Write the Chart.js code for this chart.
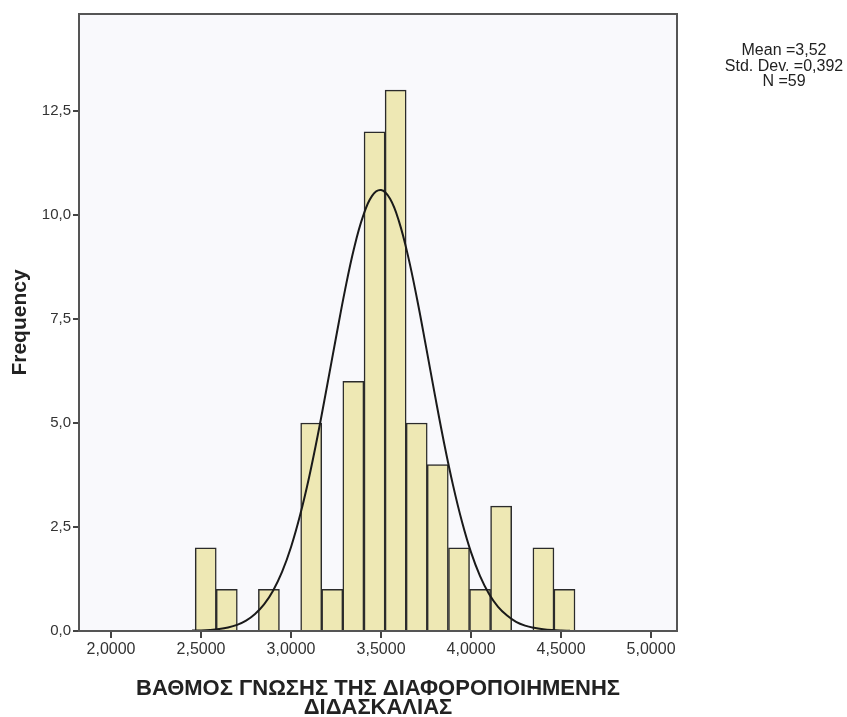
<!DOCTYPE html>
<html>
<head>
<meta charset="utf-8">
<script src="https://cdn.jsdelivr.net/npm/chart.js@4"></script>
<style>
  html, body { margin: 0; padding: 0; background: #ffffff; }
  #wrap { width: 847px; height: 717px; position: relative; }
</style>
</head>
<body>
<div id="wrap"><canvas id="c" width="847" height="717"></canvas></div>
<script>
// ---- data ----
const binCenters = [2.526, 2.643, 2.760, 2.877, 2.995, 3.112, 3.229, 3.346, 3.464,
                    3.581, 3.698, 3.815, 3.933, 4.050, 4.167, 4.285, 4.402, 4.519];
const frequencies = [2, 1, 0, 1, 0, 5, 1, 6, 12, 13, 5, 4, 2, 1, 3, 0, 2, 1];

// normal curve as drawn in the reference
const curveX = [2.45, 2.50, 2.55, 2.60, 2.65, 2.70, 2.75, 2.80, 2.85, 2.90, 2.95, 3.00,
                3.05, 3.10, 3.15, 3.20, 3.25, 3.30, 3.35, 3.40, 3.45, 3.50, 3.55, 3.60,
                3.65, 3.70, 3.75, 3.80, 3.85, 3.90, 3.95, 4.00, 4.05, 4.10, 4.15, 4.20,
                4.25, 4.30, 4.35, 4.40, 4.45, 4.50, 4.55];
const curveY = [0.01, 0.013, 0.025, 0.047, 0.085, 0.148, 0.25, 0.41, 0.64, 0.97, 1.42, 2.02,
                2.78, 3.69, 4.74, 5.89, 7.06, 8.20, 9.20, 9.97, 10.46, 10.60, 10.39, 9.84,
                9.01, 7.98, 6.83, 5.65, 4.52, 3.50, 2.62, 1.89, 1.32, 0.89, 0.58, 0.37,
                0.22, 0.13, 0.076, 0.042, 0.022, 0.011, 0.005];

const xTicks = [2.0, 2.5, 3.0, 3.5, 4.0, 4.5, 5.0];
const yTicks = [0, 2.5, 5.0, 7.5, 10.0, 12.5];
const statLines = ['Mean =3,52', 'Std. Dev. =0,392', 'N =59'];
const xTitle = ['ΒΑΘΜΟΣ ΓΝΩΣΗΣ ΤΗΣ ΔΙΑΦΟΡΟΠΟΙΗΜΕΝΗΣ', 'ΔΙΔΑΣΚΑΛΙΑΣ'];
const yTitle = 'Frequency';

// ---- build chart ----
const barPoints = [];
binCenters.forEach((c, i) => { if (frequencies[i] > 0) barPoints.push({ x: c, y: frequencies[i] }); });
const curvePoints = curveX.map((x, i) => ({ x: x, y: curveY[i] }));

const FONT = 'Liberation Sans, Arial, sans-serif';

const frame = {
  id: 'frame',
  beforeDraw(chart) {
    const { ctx, chartArea: a } = chart;
    ctx.save();
    ctx.fillStyle = '#f9f9fc';
    ctx.fillRect(a.left, a.top, a.right - a.left, a.bottom - a.top);
    ctx.restore();
  },
  afterDatasetsDraw(chart) {
    const { ctx, chartArea: a } = chart;
    ctx.save();
    ctx.strokeStyle = '#555555';
    ctx.lineWidth = 2;
    ctx.strokeRect(a.left, a.top, a.right - a.left, a.bottom - a.top);
    ctx.restore();
  },
  afterDraw(chart) {
    const { ctx } = chart;
    ctx.save();
    ctx.fillStyle = '#222222';
    ctx.font = '16px ' + FONT;
    ctx.textAlign = 'center';
    ctx.textBaseline = 'middle';
    statLines.forEach((t, i) => ctx.fillText(t, 784, 51 + i * 15.5));
    ctx.restore();
  }
};

new Chart(document.getElementById('c'), {
  type: 'bar',
  data: {
    datasets: [
      {
        type: 'line',
        data: curvePoints,
        borderColor: '#1a1a1a',
        borderWidth: 2,
        pointRadius: 0,
        tension: 0.4,
        fill: false,
        order: 0
      },
      {
        type: 'bar',
        data: barPoints,
        backgroundColor: '#eee8b4',
        borderColor: '#2b2b2b',
        borderWidth: 1.5,
        barPercentage: 1,
        categoryPercentage: 1,
        grouped: false,
        order: 1
      }
    ]
  },
  options: {
    responsive: false,
    devicePixelRatio: 1,
    animation: false,
    layout: { padding: { left: 0, top: 14, right: 170, bottom: 0 } },
    plugins: { legend: { display: false }, tooltip: { enabled: false } },
    scales: {
      x: {
        type: 'linear',
        min: 1.822,
        max: 5.144,
        offset: false,
        afterFit(s) { s.height = 86; },
        afterBuildTicks(s) { s.ticks = xTicks.map(v => ({ value: v })); },
        ticks: {
          color: '#333333',
          font: { family: FONT, size: 16 },
          padding: 2,
          autoSkip: false,
          maxRotation: 0,
          callback: v => v.toFixed(4).replace('.', ',')
        },
        grid: { offset: false, drawOnChartArea: false, drawTicks: true, tickLength: 7, color: '#444444', lineWidth: 2 },
        border: { display: true, color: '#555555', width: 2 },
        title: {
          display: true,
          text: xTitle,
          color: '#222222',
          font: { family: FONT, size: 22, weight: 'bold', lineHeight: 0.85 },
          padding: { top: 10, bottom: 0 }
        }
      },
      y: {
        type: 'linear',
        min: 0,
        max: 14.83,
        afterFit(s) { s.width = 79; },
        afterBuildTicks(s) { s.ticks = yTicks.map(v => ({ value: v })); },
        ticks: {
          color: '#333333',
          font: { family: FONT, size: 15 },
          padding: 2,
          callback: v => v.toFixed(1).replace('.', ',')
        },
        grid: { drawOnChartArea: false, drawTicks: true, tickLength: 6, color: '#444444', lineWidth: 2 },
        border: { display: true, color: '#555555', width: 2 },
        title: {
          display: true,
          text: yTitle,
          color: '#222222',
          font: { family: FONT, size: 21, weight: 'bold' },
          padding: { top: 8, bottom: 0 }
        }
      }
    }
  },
  plugins: [frame]
});
</script>
</body>
</html>
